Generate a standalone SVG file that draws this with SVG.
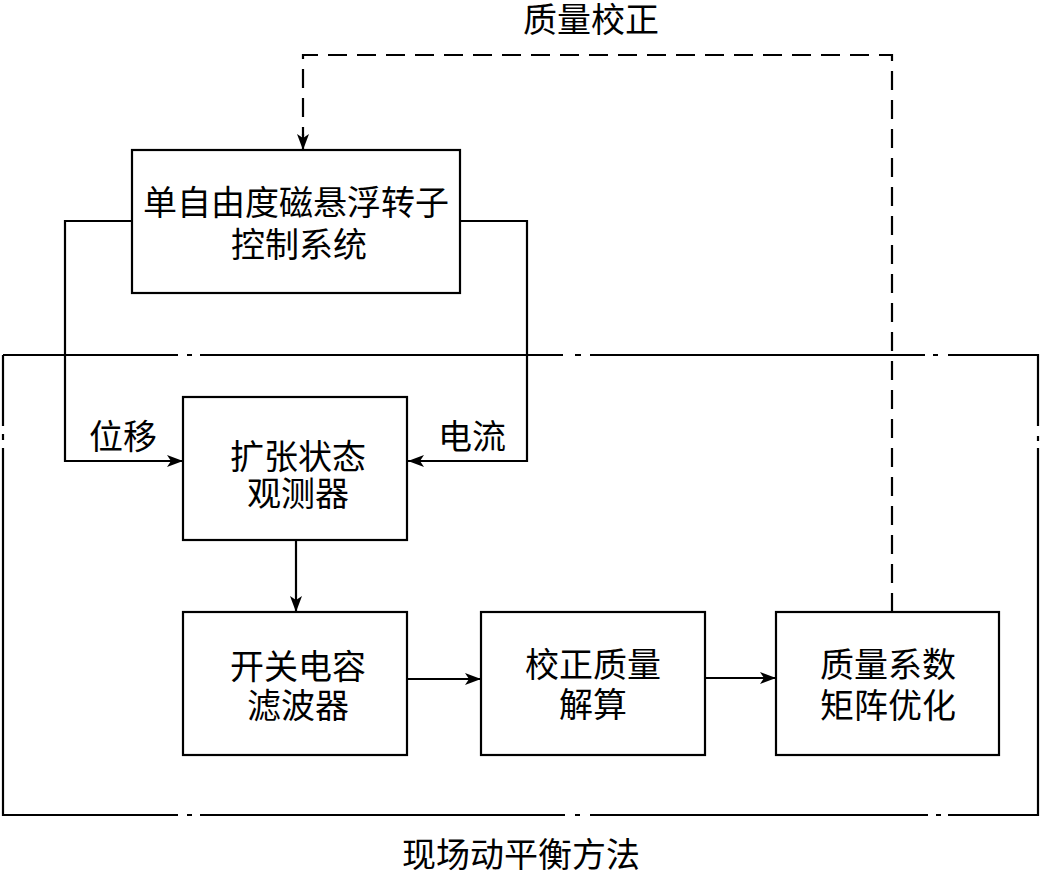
<svg xmlns="http://www.w3.org/2000/svg" width="1042" height="877" viewBox="0 0 1042 877">
<style>
.box{fill:#fff;stroke:#000;stroke-width:2.2}
.ln{fill:none;stroke:#000;stroke-width:2.2}
.dash{fill:none;stroke:#000;stroke-width:2.2;stroke-dasharray:19 10}
.frame{fill:none;stroke:#000;stroke-width:2.2}
text{font-family:"Liberation Serif","Noto Sans CJK SC",serif;font-size:34px;fill:#000;text-anchor:middle;dominant-baseline:central}
</style>
<defs>
<marker id="ah" viewBox="0 0 16 12" refX="16" refY="6" markerWidth="16" markerHeight="12" markerUnits="userSpaceOnUse" orient="auto">
<path d="M0,0 L16,6 L0,12 L4,6 Z" fill="#000"/>
</marker>
</defs>
<g id="frame">
<path class="frame" d="M3,355 H178 M187,355 H192 M200,355 H563 M575,355 H581 M590,355 H925 M933,355 H938 M948,355 H1038 V426 M1038,436 V441 M1038,448 V815 H948 M941,815 H936 M928,815 H590 M580,815 H575 M565,815 H200 M192,815 H187 M178,815 H3 V448 M3,440 V434 M3,426 V355"/>
<text x="521" y="855">现场动平衡方法</text>
</g>
<g id="connectors">
<path class="ln" d="M131,221 H65 V461 H183" marker-end="url(#ah)"/>
<path class="ln" d="M460,221 H527 V461 H408" marker-end="url(#ah)"/>
<path class="ln" d="M296,540 V612" marker-end="url(#ah)"/>
<path class="ln" d="M408,679 H481" marker-end="url(#ah)"/>
<path class="ln" d="M705,678 H776" marker-end="url(#ah)"/>
<path class="dash" d="M892,612 V55 H303 V136"/>
<path class="ln" d="M303,134 V150" marker-end="url(#ah)"/>
<text x="123" y="437">位移</text>
<text x="472" y="437">电流</text>
<text x="591" y="20">质量校正</text>
</g>
<g id="n1">
<rect class="box" x="132" y="150" width="328" height="143"/>
<text x="296" y="203">单自由度磁悬浮转子</text>
<text x="299" y="245">控制系统</text>
</g>
<g id="n2">
<rect class="box" x="183" y="397" width="224" height="143"/>
<text x="298" y="457">扩张状态</text>
<text x="298" y="494">观测器</text>
</g>
<g id="n3">
<rect class="box" x="183" y="612" width="224" height="143"/>
<text x="298" y="667">开关电容</text>
<text x="298" y="706">滤波器</text>
</g>
<g id="n4">
<rect class="box" x="481" y="612" width="224" height="143"/>
<text x="593" y="665">校正质量</text>
<text x="593" y="705">解算</text>
</g>
<g id="n5">
<rect class="box" x="776" y="612" width="223" height="143"/>
<text x="888" y="665">质量系数</text>
<text x="888" y="706">矩阵优化</text>
</g>
</svg>
